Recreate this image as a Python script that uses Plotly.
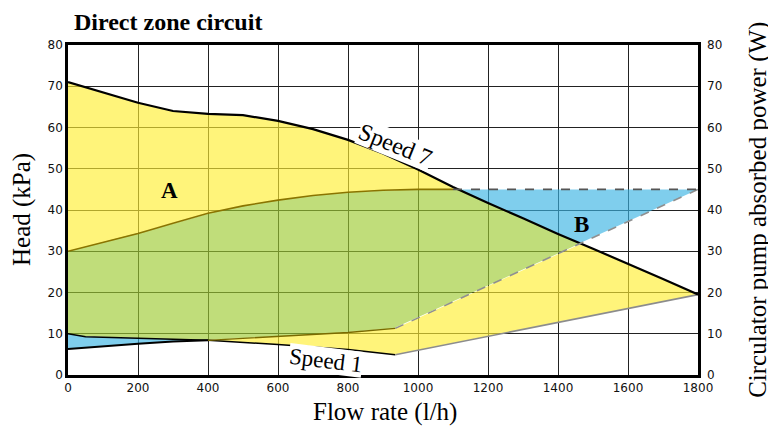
import numpy as np
import plotly.graph_objects as go

# ---- data ----
flow_s7 = [0, 100, 200, 300, 400, 500, 600, 700, 800, 900, 1000, 1100, 1200, 1300, 1400, 1500, 1600, 1700, 1800]
head_s7 = [71, 68.5, 66, 64, 63.3, 63, 61.6, 59.6, 57, 53.7, 49.8, 45.6, 41.7, 38, 34.2, 30.6, 27, 23.3, 19.5]

flow_s1 = [0, 50, 200, 400, 600, 800, 935, 1800]
head_s1 = [10, 9.3, 8.9, 8.4, 7.4, 6.2, 4.9, 19.5]

flow_pmax = [0, 100, 200, 300, 400, 500, 600, 700, 800, 900, 1000, 1100, 1800]
power_max = [30, 32.1, 34.3, 36.8, 39.2, 41, 42.4, 43.5, 44.3, 44.8, 45, 45, 45]

flow_pmin = [0, 100, 200, 300, 400, 600, 800, 935, 1800]
power_min = [6.3, 7.0, 7.6, 8.1, 8.4, 9.3, 10.3, 11.3, 45]

x_ticks = [0, 200, 400, 600, 800, 1000, 1200, 1400, 1600, 1800]
y_ticks = [0, 10, 20, 30, 40, 50, 60, 70, 80]

YELLOW = "rgba(255,238,50,0.65)"
GREEN = "rgba(158,203,50,0.65)"
BLUE = "rgba(58,180,227,0.65)"
SERIF = "Liberation Serif"
SANS = "DejaVu Sans"

# ---- derived region boundaries ----
xs = np.arange(0, 1801, 1.0)
S7 = np.interp(xs, flow_s7, head_s7)
S1 = np.interp(xs, flow_s1, head_s1)
PX = np.interp(xs, flow_pmax, power_max)
PN = np.interp(xs, flow_pmin, power_min)


def band(lo, hi):
    m = hi > lo + 1e-9
    x = xs[m]
    return np.concatenate([x, x[::-1]]), np.concatenate([hi[m], lo[m][::-1]])


regions = [
    (PX, S7, YELLOW),                                   # upper yellow (A)
    (S1, np.minimum(PN, S7), YELLOW),                   # lower yellow
    (np.maximum(S1, PN), np.minimum(S7, PX), GREEN),    # overlap
    (np.maximum(S7, PN), PX, BLUE),                     # B
    (PN, S1, BLUE),                                     # bottom-left wedge
]

fig = go.Figure()
for lo, hi, col in regions:
    bx, by = band(lo, hi)
    fig.add_trace(go.Scatter(x=bx, y=by, fill="toself", fillcolor=col,
                             line=dict(width=0), mode="lines", hoverinfo="skip",
                             showlegend=False))


def seg(xv, yv, a, b):
    xa = [x for x in xv if a <= x <= b]
    ya = [y for x, y in zip(xv, yv) if a <= x <= b]
    return xa, ya


def line(xv, yv, color, width, dash="solid", yaxis="y"):
    fig.add_trace(go.Scatter(x=xv, y=yv, mode="lines", yaxis=yaxis,
                             line=dict(color=color, width=width, dash=dash, shape="linear"),
                             hoverinfo="skip", showlegend=False))


# power curves (right axis)
x, y = seg(flow_pmin, power_min, 0, 400); line(x, y, "black", 2, yaxis="y2")
x, y = seg(flow_pmin, power_min, 400, 935); line(x, y, "#7a6a00", 1.3, yaxis="y2")
x, y = seg(flow_pmin, power_min, 935, 1800); line(x, y, "#8f8f8f", 1.6, "dash", yaxis="y2")
x, y = seg(flow_pmax, power_max, 0, 1100); line(x, y, "#8a7400", 1.6, yaxis="y2")
x, y = seg(flow_pmax, power_max, 1100, 1800); line(x, y, "#555555", 1.6, "dash", yaxis="y2")

# head curves (left axis)
x, y = seg(flow_s1, head_s1, 0, 935); line(x, y, "black", 1.5)
x, y = seg(flow_s1, head_s1, 935, 1800); line(x, y, "#8c8c8c", 1.6)
line(flow_s7, head_s7, "black", 2.2)

axis_common = dict(range=[0, 80], tickvals=y_ticks, zeroline=False,
                   ticks="", tickfont=dict(family=SANS, size=12, color="#111"))

fig.update_layout(
    width=768, height=423,
    margin=dict(l=60, r=78, t=37, b=56, autoexpand=False),
    paper_bgcolor="white", plot_bgcolor="white",
    hovermode=False,
    xaxis=dict(range=[0, 1800], tickvals=x_ticks, showgrid=True, gridcolor="#222222",
               gridwidth=1, zeroline=False, showline=True, linecolor="black", linewidth=2.5,
               mirror=True, ticks="", tickfont=dict(family=SANS, size=12, color="#111")),
    yaxis=dict(showgrid=True, gridcolor="#222222", gridwidth=1, showline=True,
               linecolor="black", linewidth=2.5, mirror=True, **axis_common),
    yaxis2=dict(overlaying="y", side="right", showline=False, showgrid=False,
                ticklabelstandoff=8, **axis_common),
)

ann = [
    dict(text="<b>Direct zone circuit</b>", x=0.006, y=1.0697, xanchor="left", yanchor="middle",
         font=dict(family=SERIF, size=24, color="black"), xref="paper", yref="paper"),
    dict(text="Head (kPa)", x=-0.073, y=0.5, textangle=-90, xref="paper", yref="paper",
         font=dict(family=SERIF, size=25, color="black")),
    dict(text="Flow rate (l/h)", x=0.503, y=-0.112, xref="paper", yref="paper",
         font=dict(family=SERIF, size=25, color="black")),
    dict(text="Circulator pump absorbed power (W)", x=1.095, y=0.5, textangle=-90,
         xref="paper", yref="paper", font=dict(family=SERIF, size=25, color="black")),
    dict(text="<b>A</b>", x=291, y=44.8, xref="x", yref="y",
         font=dict(family=SERIF, size=23, color="black")),
    dict(text="<b>B</b>", x=1466, y=36.4, xref="x", yref="y",
         font=dict(family=SERIF, size=23, color="black")),
    dict(text="Speed 7", x=937, y=55.8, xref="x", yref="y", textangle=22, bgcolor="white",
         borderpad=0, font=dict(family=SERIF, size=24, color="black")),
    dict(text="Speed 1", x=737, y=3.4, xref="x", yref="y", textangle=7, bgcolor="white",
         borderpad=0, font=dict(family=SERIF, size=23, color="black")),
]
for a in ann:
    a.setdefault("showarrow", False)
    a.setdefault("xanchor", "center")
    a.setdefault("yanchor", "middle")
    fig.add_annotation(**a)

fig.write_html("out.html")
